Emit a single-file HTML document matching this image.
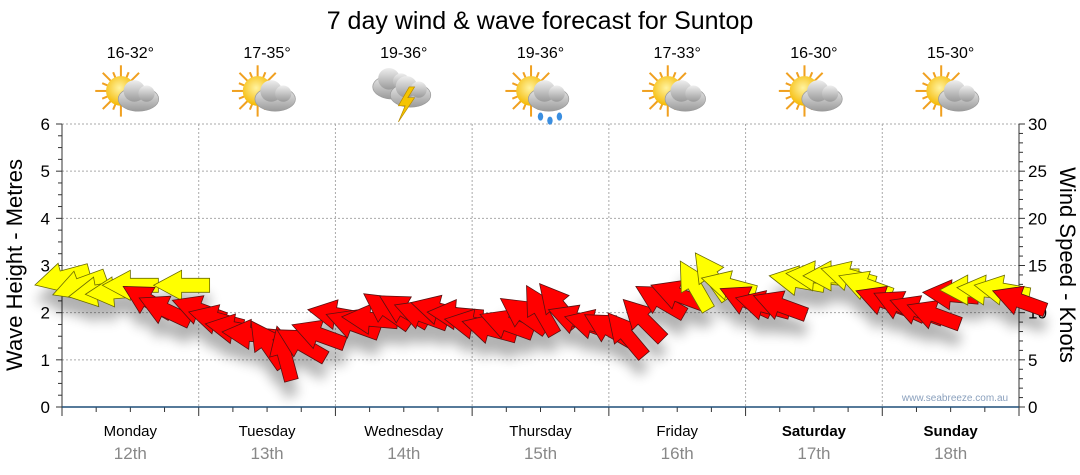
<!DOCTYPE html>
<html><head><meta charset="utf-8"><style>
body{margin:0;background:#fff;font-family:"Liberation Sans","DejaVu Sans",sans-serif;}
svg{display:block}
</style></head><body>
<svg id="c" width="1080" height="475" viewBox="0 0 1080 475" xmlns="http://www.w3.org/2000/svg">
<defs>
<filter id="sh" x="-50%" y="-50%" width="200%" height="200%"><feGaussianBlur stdDeviation="6"/></filter>
<radialGradient id="sun" cx="45%" cy="40%" r="60%"><stop offset="0" stop-color="#fff3a0"/><stop offset="1" stop-color="#f5b800"/></radialGradient>
<linearGradient id="cloud" x1="0" y1="0" x2="0" y2="1"><stop offset="0" stop-color="#eeeeee"/><stop offset="1" stop-color="#9a9a9a"/></linearGradient>
</defs>
<text x="540" y="29" text-anchor="middle" font-size="25" fill="#000">7 day wind &amp; wave forecast for Suntop</text>
<g id="grid"></g>
<g id="axes"></g>
<g id="icons"></g>
<g id="shadow" filter="url(#sh)" opacity="0.3"></g>
<g id="arrows"></g>
<text x="955" y="401" text-anchor="middle" font-size="10" fill="#8aa0bd">www.seabreeze.com.au</text>
<text transform="translate(22,265) rotate(-90)" text-anchor="middle" font-size="22" fill="#000">Wave Height - Metres</text>
<text transform="translate(1060,265) rotate(90)" text-anchor="middle" font-size="22" fill="#000">Wind Speed - Knots</text>
</svg>
<script>
const days=["Monday","Tuesday","Wednesday","Thursday","Friday","Saturday","Sunday"];
const dates=["12th","13th","14th","15th","16th","17th","18th"];
const temps=["16-32°","17-35°","19-36°","19-36°","17-33°","16-30°","15-30°"];
const weather=["suncloud","suncloud","storm","rain","suncloud","suncloud","suncloud"];
const waveTicks=[0,1,2,3,4,5,6];
const windTicks=[0,5,10,15,20,25,30];
const hours=[0,3,6,9,12,15,18,21, 24,27,30,33,36,39,42,45, 48,51,54,57,60,63,66,69, 72,75,78,81,84,87,90,93, 96,99,102,105,108,111,114,117,120, 123,126,129,132,135,138,141,144,147, 150,153,156,159,162,165,168];
const speed=[13.7,12.9,12.2,12.2,12.9,11.3,10.3,12.9, 10.3,9.3,8.3,7.7,6.7,5.7,6.7,7.7, 9.8,8.8,9.3,10.3,10.3,9.8,10.3,9.8, 8.8,8.3,8.8,9.8,10.3,10.8,9.3,8.8, 8.3,7.7,9.3,11.3,11.9,12.9,13.9,12.9,11.3, 10.8,10.8,13.4,13.9,13.9,13.9,12.9,11.3, 10.8,10.3,9.8,11.9,12.4,12.4,12.4,11.3];
const direction=[165,160,170,175,180,210,205,180, 200,195,190,185,235,255,210,200, 190,200,185,215,210,200,195,185, 190,195,200,215,240,230,200,195, 210,230,225,210,200,240,235,195,205, 195,200,190,185,180,195,200,200, 205,200,200,185,180,185,190,200];

const X0=62,X1=1019,Y0=407,Y1=124;
const xs=h=>X0+(X1-X0)*h/168;
const yWave=m=>Y0-(Y0-Y1)*m/6;
const yWind=k=>Y0-(Y0-Y1)*k/30;
const NS="http://www.w3.org/2000/svg";
function mk(tag,attrs,parent){const e=document.createElementNS(NS,tag);for(const k in attrs)e.setAttribute(k,attrs[k]);parent.appendChild(e);return e;}
const grid=document.getElementById('grid'),axes=document.getElementById('axes'),icons=document.getElementById('icons');
waveTicks.forEach((v,i)=>{
  if(v>0){const l=mk('line',{x1:X0,x2:X1,y1:yWave(v),y2:yWave(v),stroke:'#aaa','stroke-dasharray':'2,2'},grid);
  
  }
  const t=mk('text',{x:50,y:yWave(v)+6,'text-anchor':'end','font-size':17,fill:'#000'},axes);t.textContent=v;
  
  
});
windTicks.forEach(v=>{
  const t=mk('text',{x:1028,y:yWind(v)+6,'font-size':17,fill:'#000'},axes);t.textContent=v;
  
  
});
for(let i=0;i<=24;i++){const y=yWave(i/4);mk('line',{x1:X0-(i%4?4:6),x2:X0,y1:y,y2:y,stroke:'#333'},axes);}
for(let i=0;i<=30;i++){const y=yWind(i);mk('line',{x1:X1,x2:X1+(i%5?4:6),y1:y,y2:y,stroke:'#333'},axes);}
for(let d=1;d<7;d++){const x=xs(d*24);const l=mk('line',{x1:x,x2:x,y1:Y1,y2:Y0,stroke:'#aaa','stroke-dasharray':'2,2'},grid);
  
  }
for(let h=0;h<=168;h+=6){const x=xs(h);mk('line',{x1:x,x2:x,y1:Y0,y2:Y0+(h%24?5:9),stroke:'#333'},axes);}
mk('line',{x1:X0,x2:X0,y1:Y1,y2:Y0,stroke:'#333'},axes);
mk('line',{x1:X1,x2:X1,y1:Y1,y2:Y0,stroke:'#333'},axes);
mk('line',{x1:X0,x2:X1,y1:Y0,y2:Y0,stroke:'#1f4e79','stroke-width':1.5},axes);
days.forEach((d,i)=>{
  const cx=xs(i*24+12);
  const t=mk('text',{x:cx,y:436,'text-anchor':'middle','font-size':15,fill:'#000','font-weight':i>=5?'bold':'normal'},axes);t.textContent=d;
  
  
  const t2=mk('text',{x:cx,y:459,'text-anchor':'middle','font-size':17,fill:'#888'},axes);t2.textContent=dates[i];
  
  
  const t3=mk('text',{x:cx,y:58,'text-anchor':'middle','font-size':16,fill:'#000'},icons);t3.textContent=temps[i];
  
  
  const g=mk('g',{transform:`translate(${cx},95) scale(1.35)`},icons);
  
  
  const w=weather[i];
  if(w!=='storm'){
    for(let a=0;a<16;a++){const r=a*Math.PI/8;mk('line',{x1:-7+Math.cos(r)*10,y1:-3+Math.sin(r)*10,x2:-7+Math.cos(r)*(a%2?15:19),y2:-3+Math.sin(r)*(a%2?15:19),stroke:'#f0a020','stroke-width':1.5},g);}
    mk('circle',{cx:-7,cy:-3,r:11,fill:'url(#sun)'},g);
  }
  const cl=(dx,dy,s)=>{mk('ellipse',{cx:dx,cy:dy,rx:15*s,ry:9*s,fill:'url(#cloud)',stroke:'#999','stroke-width':0.5},g);mk('circle',{cx:dx-3*s,cy:dy-6*s,r:8*s,fill:'url(#cloud)'},g);mk('circle',{cx:dx+6*s,cy:dy-4*s,r:6*s,fill:'url(#cloud)'},g);};
  if(w==='storm'){cl(-8,-6,1);cl(5,0,1);mk('polygon',{points:'4,-6 -4,8 1,8 -4,20 8,2 3,2 8,-6',fill:'#f5c400',stroke:'#b88a00','stroke-width':0.5},g);}
  else cl(6,3,1);
  if(w==='rain'){for(let k=0;k<3;k++)mk('ellipse',{cx:0+k*7,cy:16+(k%2)*3,rx:2,ry:3,fill:'#3a8ee0'},g);}
});
const arrowsG=document.getElementById('arrows'),shG=document.getElementById('shadow');
const shape='-28,-7 0,-7 0,-15 28,0 0,15 0,7 -28,7';
hours.forEach((h,i)=>{
  const x=xs(h),y=yWind(speed[i]),a=direction[i];
  const col=speed[i]>=12?'#ffff00':'#ff0000';
  const s=mk('polygon',{points:shape,transform:`translate(${x},${y+16}) rotate(${a})`,fill:'#000'},shG);
  
  
  const p=mk('polygon',{points:shape,transform:`translate(${x},${y}) rotate(${a})`,fill:col,stroke:col==='#ffff00'?'#6b6b00':'#5a1010','stroke-width':0.8},arrowsG);
  
  
});
</script>
</body></html>
